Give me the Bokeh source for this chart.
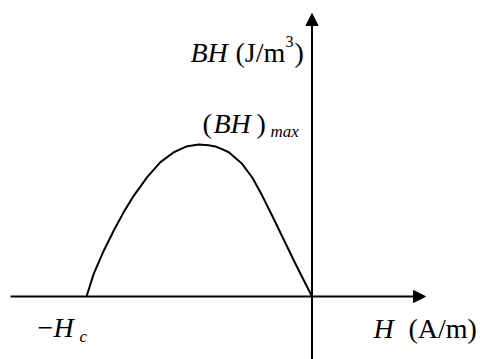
from bokeh.plotting import figure
from bokeh.models import Range1d, Arrow, NormalHead, Label
from bokeh.embed import file_html
from bokeh.resources import INLINE

# ---- data (H in units of Hc, BH in units of (BH)max) ----
H_vals = [-1.000, -0.968, -0.923, -0.879, -0.835, -0.790, -0.731, -0.672,
          -0.613, -0.583, -0.553, -0.502, -0.459, -0.428, -0.399, -0.369,
          -0.310, -0.265, -0.221, -0.176, -0.132, -0.073, 0.0]
BH_vals = [0.0, 0.149, 0.303, 0.434, 0.555, 0.664, 0.785, 0.884,
           0.949, 0.970, 0.989, 1.0, 0.995, 0.987, 0.970, 0.949,
           0.873, 0.783, 0.664, 0.530, 0.395, 0.214, 0.0]

y_label = ["BH", "(J/m", "3", ")"]
peak_label = ["(", "BH", ")", "max"]
hc_label = ["\u2212", "H", "c"]
x_label = ["H", "(A/m)"]

# ---- layout ----
W, HGT = 480, 359
X0, Y0 = 311.5, 296.0   # canvas pixel of origin
SX, SY = 225.5, 152.0   # pixels per unit

def px(v):
    return (v - X0) / SX

def py(v):
    return (Y0 - v) / SY

p = figure(width=W, height=HGT, output_backend="svg", toolbar_location=None,
           x_range=Range1d(px(0), px(W)),
           y_range=Range1d(py(HGT), py(0)),
           x_axis_type=None, y_axis_type=None,
           min_border=0, min_border_left=0, min_border_right=0,
           min_border_top=0, min_border_bottom=0)
p.grid.visible = False
p.outline_line_color = None
p.background_fill_color = "white"
p.border_fill_color = "white"

# axes as arrows
p.add_layout(Arrow(end=NormalHead(size=12, fill_color="black", line_color="black", line_width=1),
                   x_start=px(10), y_start=0, x_end=px(425), y_end=0,
                   line_width=2, line_color="black"))
p.add_layout(Arrow(end=NormalHead(size=12, fill_color="black", line_color="black", line_width=1),
                   x_start=0, y_start=py(HGT), x_end=0, y_end=py(13),
                   line_width=2, line_color="black"))

# curve
p.line(H_vals, BH_vals, line_width=2, line_color="black", line_join="round")

FONT = "Liberation Serif"

def lab(text, x, y, size, italic=False):
    p.add_layout(Label(x=x, y=HGT - y, x_units="screen", y_units="screen",
                       text=text, text_font=FONT, text_font_size=f"{size}px",
                       text_font_style="italic" if italic else "normal",
                       text_color="black", text_baseline="alphabetic", text_align="left"))

# BH (J/m^3)
lab(y_label[0], 190, 52, 28, True)
lab(y_label[1], 235, 52, 28)
lab(y_label[2], 285, 41, 16)
lab(y_label[3], 294, 52, 28)

# (BH)max
lab(peak_label[0], 202, 123, 28)
lab(peak_label[1], 213, 123, 28, True)
lab(peak_label[2], 256, 123, 28)
lab(peak_label[3], 270, 131, 17, True)

# -Hc
lab(hc_label[0], 37, 327, 28)
lab(hc_label[1], 53, 327, 28, True)
lab(hc_label[2], 79, 336, 17, True)

# H (A/m)
lab(x_label[0], 373, 328, 28, True)
lab(x_label[1], 408, 328, 28)

open("out.html", "w").write(file_html(p, INLINE))
